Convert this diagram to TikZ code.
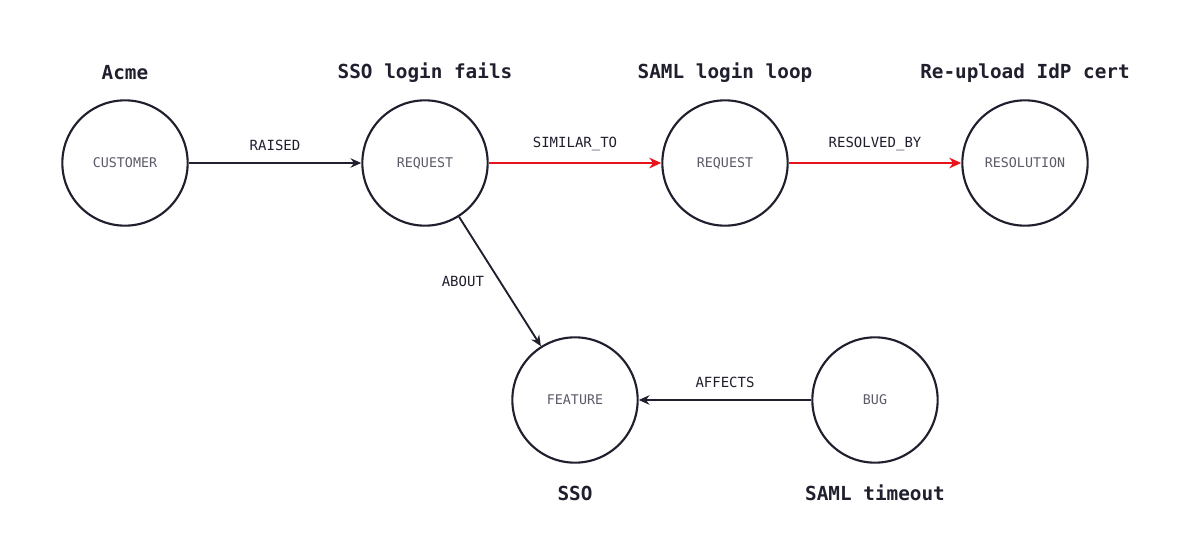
\documentclass[tikz,border=0pt]{standalone}
\usepackage{fontspec}
\setmonofont{DejaVu Sans Mono}
\usetikzlibrary{arrows.meta}
\definecolor{ink}{HTML}{1F1F2E}
\definecolor{redge}{HTML}{E8131B}
\definecolor{gtext}{HTML}{5A5A68}
\begin{document}
\begin{tikzpicture}[x=0.75pt,y=-0.75pt,
  ent/.style={circle,draw=ink,line width=1.6pt,minimum size=94pt,inner sep=0pt,font=\ttfamily\fontsize{10}{12}\selectfont,text=gtext},
  ttl/.style={font=\ttfamily\bfseries\fontsize{14.5}{17}\selectfont,text=ink},
  lbl/.style={font=\ttfamily\fontsize{10.5}{12}\selectfont,text=ink},
  rel/.style={draw=ink,line width=1.4pt,-{Stealth[length=8pt,width=7pt]}},
  hot/.style={draw=redge,line width=2.2pt,-{Stealth[length=9pt,width=8pt]}}]
\useasboundingbox (0,0) rectangle (1200,550);
\node[ent] (c) at (125,163) {CUSTOMER};
\node[ent] (r1) at (425,163) {REQUEST};
\node[ent] (r2) at (725,163) {REQUEST};
\node[ent] (res) at (1025,163) {RESOLUTION};
\node[ent] (f) at (575,400) {FEATURE};
\node[ent] (b) at (875,400) {BUG};
\node[ttl] (tc) at (125,73) {Acme};
\node[ttl] (t1) at (425,73) {SSO login fails};
\node[ttl] (t2) at (725,73) {SAML login loop};
\node[ttl] (t3) at (1025,73) {Re-upload IdP cert};
\node[ttl] (tf) at (575,493) {SSO};
\node[ttl] (tb) at (875,493) {SAML timeout};
\draw[rel] (c) -- node[lbl,above=5pt] {RAISED} (r1);
\draw[hot] (r1) -- node[lbl,above=5pt] {SIMILAR\_TO} (r2);
\draw[hot] (r2) -- node[lbl,above=5pt] {RESOLVED\_BY} (res);
\draw[rel] (r1) -- node[lbl,left=8pt] {ABOUT} (f);
\draw[rel] (b) -- node[lbl,above=5pt] {AFFECTS} (f);
\end{tikzpicture}
\end{document}
